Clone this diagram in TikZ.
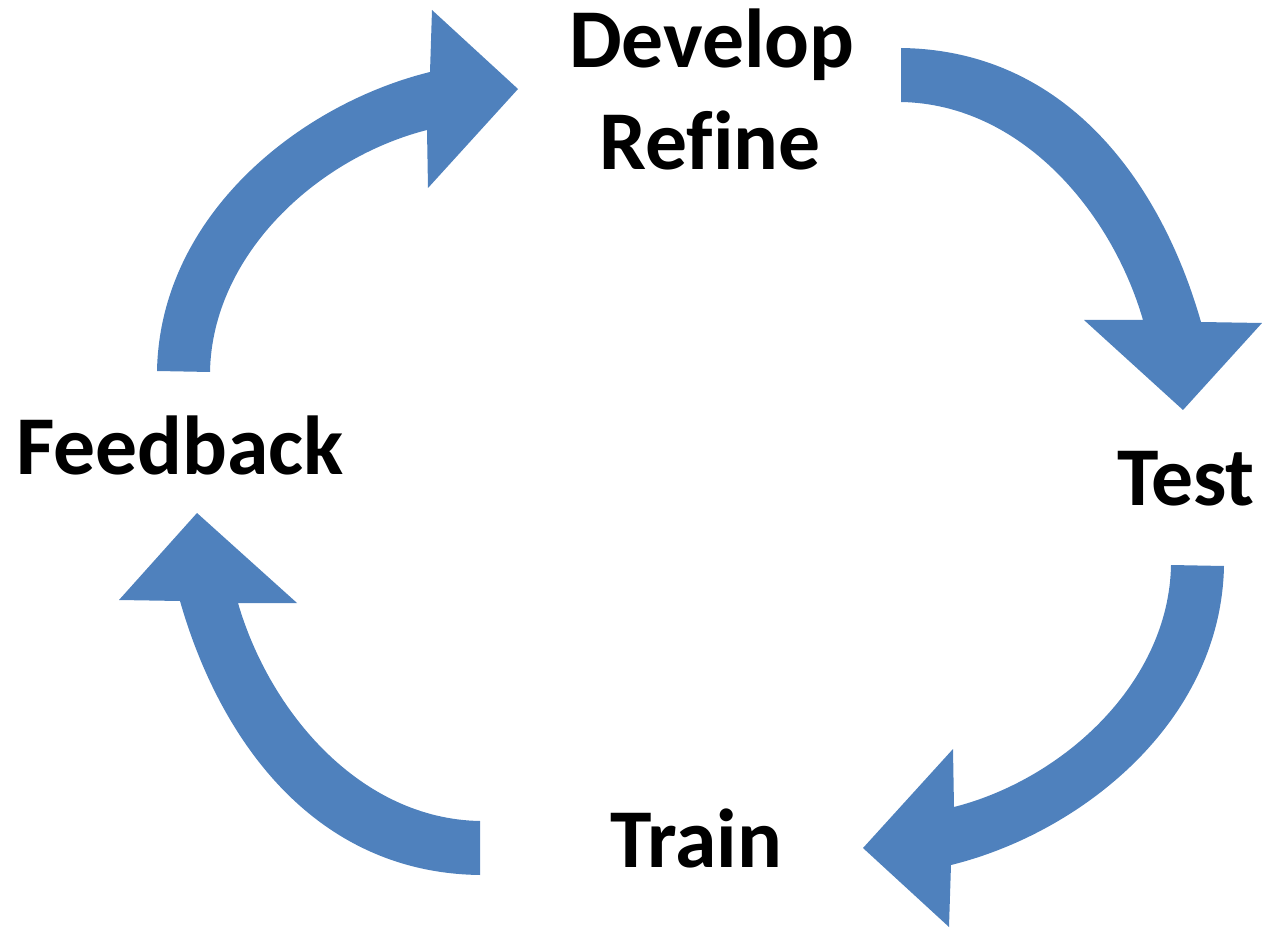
\documentclass[tikz,border=0pt]{standalone}
\usepackage{fontspec}
\setmainfont{Carlito}[Ligatures=NoCommon]
\usepackage{tikz}
\usetikzlibrary{positioning}
\definecolor{cycleblue}{RGB}{79,129,189}
\tikzset{
    band/.style={fill=cycleblue, draw=none},
    stage/.style={font=\bfseries\fontsize{47.6pt}{57.8pt}\selectfont, anchor=base, inner sep=0pt}
}

\begin{document}
\begin{tikzpicture}[x=0.02cm, y=-0.02cm]
                    \useasboundingbox (0,0) rectangle (1262,929);
                    \node[stage] (develop) at (712,68) {Develop};
                    \node[stage] (refine) at (710,170) {Refine};
                    \node[stage] (test) at (1186,505) {Test};
                    \node[stage] (train) at (696,867) {Train};
                    \node[stage] (feedback) at (180,475) {Feedback};

                    % feedback -> develop
                    \fill[band] (157,371) .. controls (160,215) and (300,104) .. (430,72)
                        -- (432,10) -- (518,89) -- (428,188) -- (427,130)
                        .. controls (317,158) and (212,255) .. (210,372) -- cycle;
                    % develop -> test
                    \fill[band] (901,48) .. controls (1066,50) and (1161,182) .. (1201,322)
                        -- (1262,323) -- (1183,410) -- (1084,320) -- (1143,320)
                        .. controls (1111,210) and (1020,104) .. (901,102) -- cycle;
                    % test -> train
                    \fill[band] (1224,566) .. controls (1221,722) and (1081,833) .. (951,865)
                        -- (949,927) -- (863,848) -- (953,749) -- (954,807)
                        .. controls (1064,779) and (1169,682) .. (1171,565) -- cycle;
                    % train -> feedback
                    \fill[band] (480,875) .. controls (315,873) and (220,741) .. (180,601)
                        -- (119,600) -- (197,513) -- (297,603) -- (238,603)
                        .. controls (270,713) and (361,819) .. (480,821) -- cycle;
                \end{tikzpicture}
\end{document}
